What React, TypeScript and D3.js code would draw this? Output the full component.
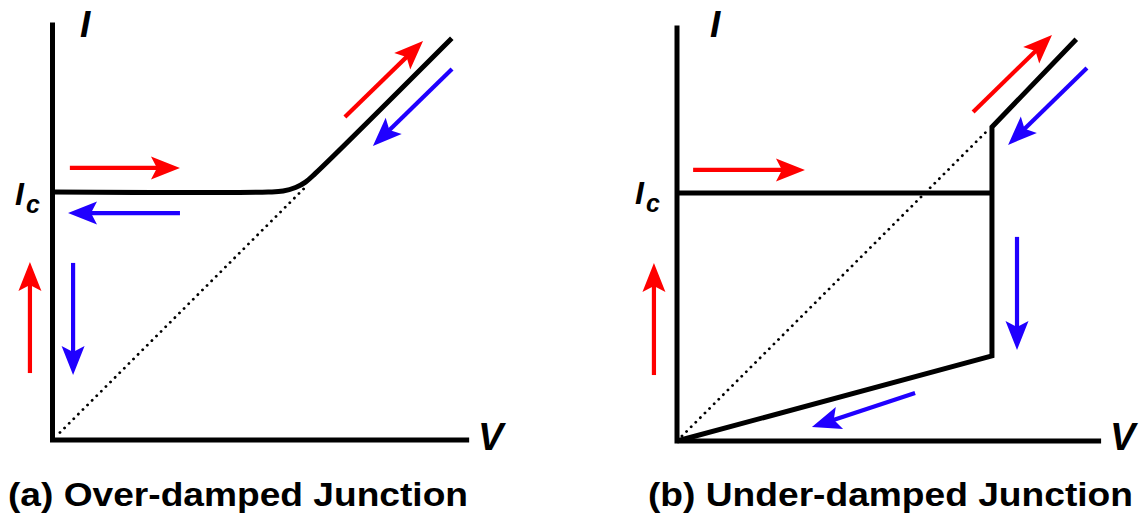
import React from "react";
import * as d3 from "d3";

// Current–voltage characteristics of Josephson junctions, in units where Ic = 1 and R = 1.
type Pt = [number, number];

// (a) over-damped: supercurrent branch, rounded knee, then the ohmic branch V = IR
const overDampedCurve: Pt[] = [
  [0, 1.0],
  [0.87, 1.0],
  [0.93, 1.004],
  [0.98, 1.018],
  [1.02, 1.04],
  [1.06, 1.075],
  [1.61, 1.62],
];
const overDampedOhmic: Pt[] = [
  [0.03, 0.03],
  [1.03, 1.03],
];

// (b) under-damped: supercurrent branch up to Ic, then hysteretic loop
const underDampedSuper: Pt[] = [
  [0, 1.0],
  [1.27, 1.0],
];
const underDampedLoop: Pt[] = [
  [0, 0],
  [1.27, 0.343],
  [1.27, 1.266],
  [1.61, 1.62],
];
const underDampedOhmic: Pt[] = [
  [0.02, 0.02],
  [1.26, 1.26],
];

// Sweep-direction arrows: tail -> tip
type Arrow = { from: Pt; to: Pt; color: string };
const RED = "#ff0000";
const BLUE = "#2000ff";

const overDampedArrows: Arrow[] = [
  { from: [0.07, 1.097], to: [0.514, 1.097], color: RED },
  { from: [0.514, 0.915], to: [0.0625, 0.915], color: BLUE },
  { from: [-0.091, 0.27], to: [-0.091, 0.718], color: RED },
  { from: [0.083, 0.714], to: [0.083, 0.262], color: BLUE },
  { from: [1.179, 1.302], to: [1.494, 1.609], color: RED },
  { from: [1.611, 1.496], to: [1.292, 1.185], color: BLUE },
];

const underDampedArrows: Arrow[] = [
  { from: [0.065, 1.093], to: [0.516, 1.093], color: RED },
  { from: [-0.093, 0.266], to: [-0.093, 0.718], color: RED },
  { from: [1.371, 0.823], to: [1.371, 0.367], color: BLUE },
  { from: [0.96, 0.194], to: [0.544, 0.056], color: BLUE },
  { from: [1.194, 1.327], to: [1.512, 1.637], color: RED },
  { from: [1.653, 1.504], to: [1.335, 1.194], color: BLUE },
];

const captions = ["(a) Over-damped Junction", "(b) Under-damped Junction"];
const axisLabels = { current: "I", voltage: "V", critical: "I", criticalSub: "c" };

const FONT = "'Liberation Sans', Arial, sans-serif";
const UNIT = 248;

function ArrowMark({ a, x, y }: { a: Arrow; x: d3.ScaleLinear<number, number>; y: d3.ScaleLinear<number, number> }) {
  const x0 = x(a.from[0]);
  const y0 = y(a.from[1]);
  const x1 = x(a.to[0]);
  const y1 = y(a.to[1]);
  const dx = x1 - x0;
  const dy = y1 - y0;
  const len = Math.hypot(dx, dy);
  const ux = dx / len;
  const uy = dy / len;
  const px = -uy;
  const py = ux;
  const headLen = 29;
  const half = 11.5;
  const notch = 6;
  const bx = x1 - ux * headLen;
  const by = y1 - uy * headLen;
  const nx = bx + ux * notch;
  const ny = by + uy * notch;
  const head = [
    [x1, y1],
    [bx + px * half, by + py * half],
    [nx, ny],
    [bx - px * half, by - py * half],
  ]
    .map((p) => p.join(","))
    .join(" ");
  return (
    <g>
      <line x1={x0} y1={y0} x2={nx + ux * 2} y2={ny + uy * 2} stroke={a.color} strokeWidth={4.2} />
      <polygon points={head} fill={a.color} />
    </g>
  );
}

function Panel({
  ox,
  oy,
  curves,
  ohmic,
  arrows,
  vMax,
  iMax,
  icLabelX,
  icBase,
  iLabelX,
  vLabelX,
  smoothFirst,
}: {
  ox: number;
  oy: number;
  curves: Pt[][];
  ohmic: Pt[];
  arrows: Arrow[];
  vMax: number;
  iMax: number;
  icLabelX: number;
  icBase: number;
  iLabelX: number;
  vLabelX: number;
  smoothFirst: boolean;
}) {
  const x = d3.scaleLinear().domain([0, 1]).range([ox, ox + UNIT]);
  const y = d3.scaleLinear().domain([0, 1]).range([oy, oy - UNIT]);
  const smooth = d3
    .line<Pt>()
    .x((d) => x(d[0]))
    .y((d) => y(d[1]))
    .curve(d3.curveCatmullRom.alpha(0.5));
  const straight = d3
    .line<Pt>()
    .x((d) => x(d[0]))
    .y((d) => y(d[1]));
  return (
    <g>
      {/* axes */}
      <path
        d={`M${x(0)},${y(iMax)}V${y(0)}H${x(vMax)}`}
        fill="none"
        stroke="#000"
        strokeWidth={5}
        strokeLinecap="square"
        strokeLinejoin="miter"
      />
      {/* ohmic reference line */}
      <path
        d={straight(ohmic) ?? ""}
        fill="none"
        stroke="#000"
        strokeWidth={2.8}
        strokeDasharray="0.1 6.4"
        strokeLinecap="round"
      />
      {curves.map((c, i) => (
        <path
          key={i}
          d={(smoothFirst && i === 0 ? smooth(c) : straight(c)) ?? ""}
          fill="none"
          stroke="#000"
          strokeWidth={5}
          strokeLinejoin="miter"
          strokeLinecap="butt"
        />
      ))}
      {arrows.map((a, i) => (
        <ArrowMark key={i} a={a} x={x} y={y} />
      ))}
      <text x={iLabelX} y={37} fontFamily={FONT} fontWeight="bold" fontStyle="italic" fontSize={37}>
        {axisLabels.current}
      </text>
      <text x={vLabelX} y={450} fontFamily={FONT} fontWeight="bold" fontStyle="italic" fontSize={38}>
        {axisLabels.voltage}
      </text>
      <text x={icLabelX} y={icBase} fontFamily={FONT} fontWeight="bold" fontStyle="italic" fontSize={32}>
        {axisLabels.critical}
      </text>
      <text x={icLabelX + 11} y={icBase + 8} fontFamily={FONT} fontWeight="bold" fontStyle="italic" fontSize={25}>
        {axisLabels.criticalSub}
      </text>
    </g>
  );
}

export default function App() {
  return (
    <svg
      width={1140}
      height={517}
      viewBox="0 0 1140 517"
      style={{ position: "absolute", left: 0, top: 0, background: "#fff" }}
    >
      <rect width={1140} height={517} fill="#fff" />
      <Panel
        ox={52.5}
        oy={440}
        curves={[overDampedCurve]}
        ohmic={overDampedOhmic}
        arrows={overDampedArrows}
        vMax={1.67}
        iMax={1.673}
        icLabelX={15}
        icBase={205}
        iLabelX={80}
        vLabelX={478}
        smoothFirst={true}
      />
      <Panel
        ox={677}
        oy={441}
        curves={[underDampedSuper, underDampedLoop]}
        ohmic={underDampedOhmic}
        arrows={underDampedArrows}
        vMax={1.7}
        iMax={1.665}
        icLabelX={635}
        icBase={204}
        iLabelX={710}
        vLabelX={1110}
        smoothFirst={false}
      />
      <text x={8} y={506} fontFamily={FONT} fontWeight="bold" fontSize={33} textLength={460} lengthAdjust="spacingAndGlyphs">
        {captions[0]}
      </text>
      <text x={648} y={506} fontFamily={FONT} fontWeight="bold" fontSize={33} textLength={485} lengthAdjust="spacingAndGlyphs">
        {captions[1]}
      </text>
    </svg>
  );
}
